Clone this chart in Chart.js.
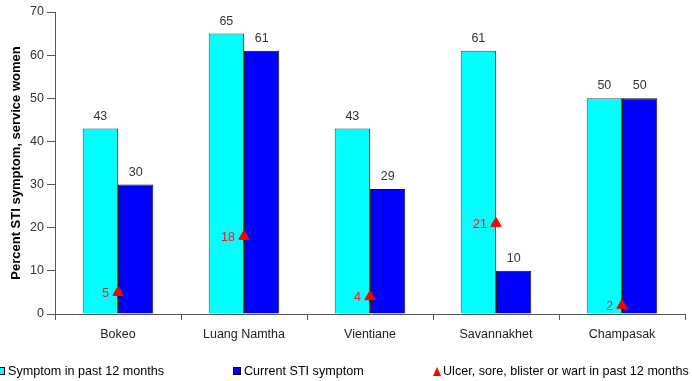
<!DOCTYPE html>
<html>
<head>
<meta charset="utf-8">
<script src="https://cdn.jsdelivr.net/npm/chart.js@4.4.0/dist/chart.umd.min.js"></script>
<style>
  html, body { margin: 0; padding: 0; background: #fff; }
  #wrap { position: relative; width: 692px; height: 381px; overflow: hidden; }
  #legend { position: absolute; top: 362px; left: 0; width: 692px; height: 18px;
    font: 12.6px "Liberation Sans", Arial, sans-serif; color: #000; }
  .item { position: absolute; top: 2px; white-space: nowrap; }
  .sw { display: inline-block; width: 6px; height: 6px; border: 1px solid #000; margin-right: 3px; vertical-align: 0px; }
  .tri { display: inline-block; width: 0; height: 0; border-left: 4px solid transparent;
    border-right: 4px solid transparent; border-bottom: 9px solid #ff0000; margin-right: 2px; vertical-align: -1px; }
</style>
</head>
<body>
<div id="wrap">
  <canvas id="stiChart" width="692" height="381"></canvas>
  <div id="legend">
    <span class="item" style="left:-3px"><span class="sw" style="background:#00ffff"></span>Symptom in past 12 months</span>
    <span class="item" style="left:233px"><span class="sw" style="background:#0000ff"></span>Current STI symptom</span>
    <span class="item" style="left:433px"><span class="tri"></span>Ulcer, sore, blister or wart in past 12 months</span>
  </div>
</div>
<script>
const provinces = ["Bokeo", "Luang Namtha", "Vientiane", "Savannakhet", "Champasak"];
const pastYear = [43, 65, 43, 61, 50];
const current = [30, 61, 29, 10, 50];
const ulcer = [5, 18, 4, 21, 2];
const yTicks = [0, 10, 20, 30, 40, 50, 60, 70];

const FONT = "'Liberation Sans', Arial, sans-serif";

// value labels: above the bars, red numbers left of the triangles
const valueLabels = {
  id: "valueLabels",
  afterDatasetsDraw(chart) {
    const ctx = chart.ctx;
    ctx.save();
    ctx.font = "12.5px " + FONT;
    chart.data.datasets.forEach((ds, i) => {
      const meta = chart.getDatasetMeta(i);
      meta.data.forEach((el, j) => {
        const v = ds.data[j];
        if (ds.type === "line") {
          ctx.fillStyle = "#e82020";
          ctx.textAlign = "right";
          ctx.textBaseline = "middle";
          ctx.fillText(String(v), el.x - 9, el.y + 1);
        } else {
          ctx.fillStyle = "#333";
          ctx.textAlign = "center";
          ctx.textBaseline = "bottom";
          ctx.fillText(String(v), el.x, el.y - 6);
        }
      });
    });
    ctx.restore();
  }
};

new Chart(document.getElementById("stiChart"), {
  type: "bar",
  data: {
    labels: provinces,
    datasets: [
      {
        type: "line",
        label: "Ulcer, sore, blister or wart in past 12 months",
        data: ulcer,
        showLine: false,
        pointStyle: "triangle",
        pointRadius: 6,
        pointBackgroundColor: "#ff0000",
        pointBorderColor: "#ff0000",
        order: 0
      },
      {
        label: "Symptom in past 12 months",
        data: pastYear,
        backgroundColor: "#00ffff",
        borderColor: "#444",
        borderWidth: 1,
        order: 1
      },
      {
        label: "Current STI symptom",
        data: current,
        backgroundColor: "#0000ff",
        borderColor: "#111",
        borderWidth: 1,
        order: 1
      }
    ]
  },
  options: {
    responsive: false,
    animation: false,
    layout: { padding: { top: 12, right: 7, left: 0, bottom: 0 } },
    datasets: { bar: { categoryPercentage: 0.56, barPercentage: 1 } },
    plugins: { legend: { display: false }, tooltip: { enabled: false } },
    scales: {
      x: {
        offset: true,
        grid: { offset: true, drawOnChartArea: false, drawTicks: true, tickLength: 6, color: "#555" },
        border: { color: "#555" },
        ticks: { color: "#222", font: { family: FONT, size: 12.5 }, padding: 7 },
        afterFit(scale) { scale.height = 67; }
      },
      y: {
        min: 0,
        max: 70,
        afterBuildTicks(scale) { scale.ticks = yTicks.map(v => ({ value: v })); },
        grid: { drawOnChartArea: false, drawTicks: true, tickLength: 8, color: "#555" },
        border: { color: "#555" },
        ticks: { color: "#333", font: { family: FONT, size: 12.5 }, padding: 3 },
        title: {
          display: true,
          text: "Percent STI symptom, service women",
          color: "#000",
          font: { family: FONT, size: 13, weight: "bold" },
          padding: { top: 9, bottom: 0 }
        },
        afterFit(scale) { scale.width = 55; }
      }
    }
  },
  plugins: [valueLabels]
});
</script>
</body>
</html>
